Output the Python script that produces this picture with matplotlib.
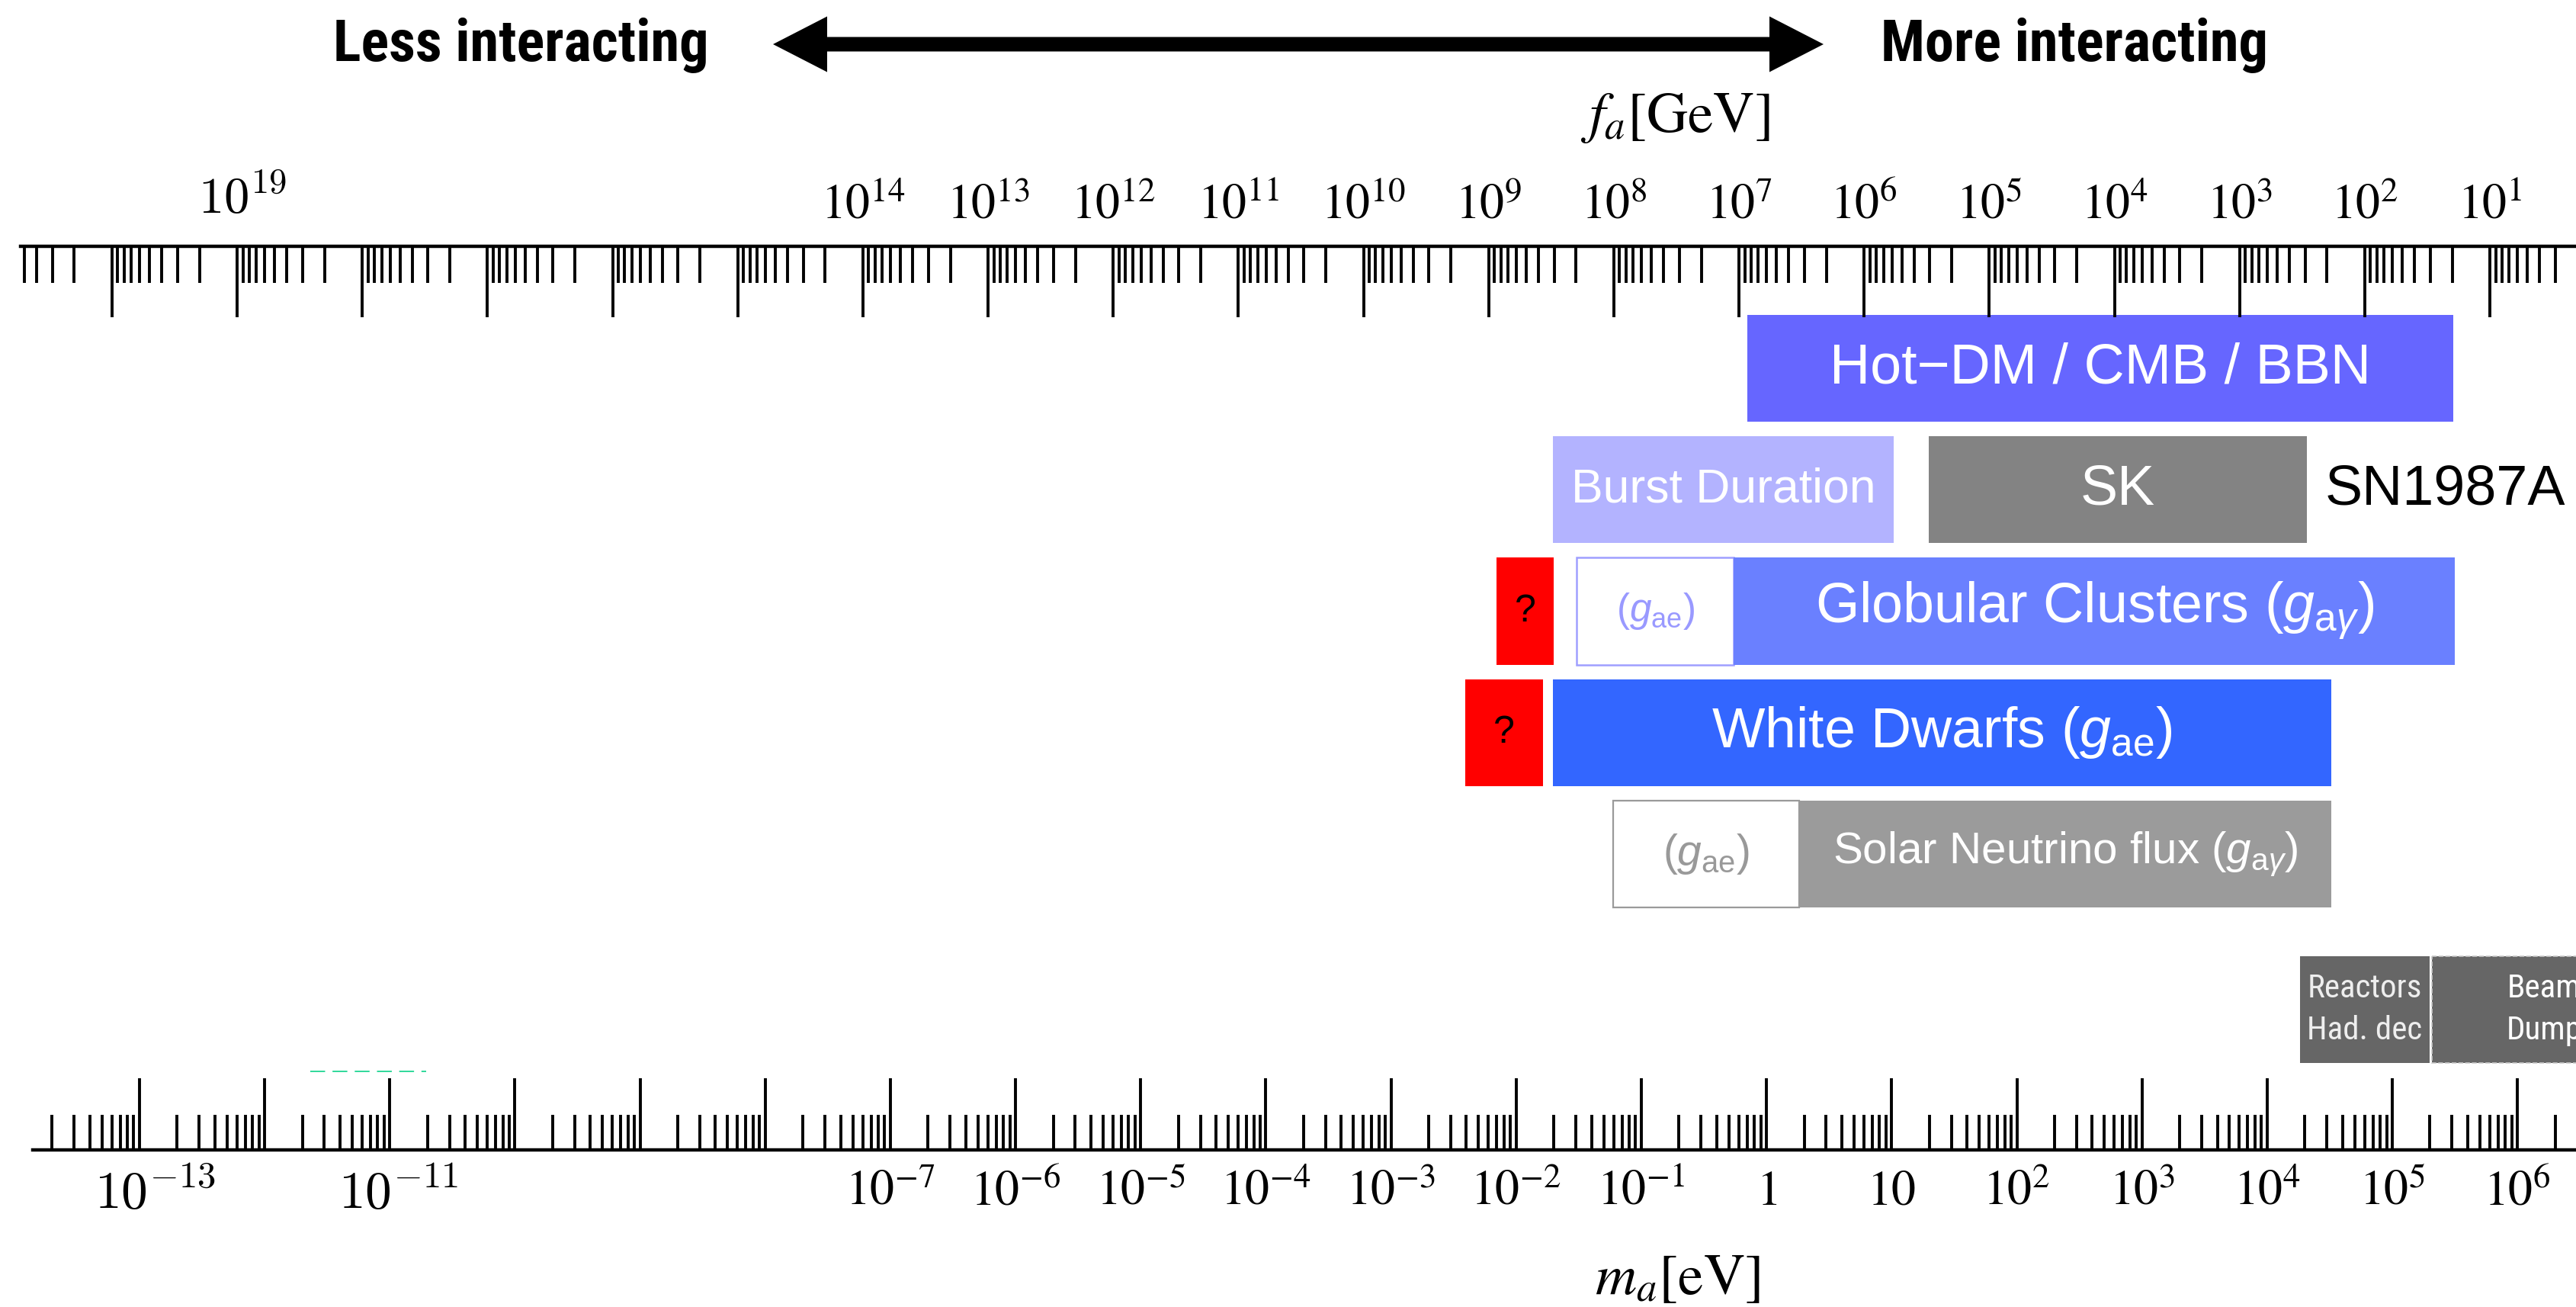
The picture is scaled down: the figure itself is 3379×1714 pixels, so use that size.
import numpy as np
import matplotlib
matplotlib.use("Agg")
import matplotlib.pyplot as plt
from matplotlib import font_manager
from matplotlib.font_manager import FontProperties
from matplotlib.patches import FancyArrow
from matplotlib.ticker import LogLocator, NullFormatter
from matplotlib.transforms import ScaledTranslation

# ---------------- data ----------------
# axion mass range on the bottom axis (eV) and f_a * m_a (GeV * eV)
M_RANGE = (10 ** -13.95, 10 ** 6.474)
FA_TIMES_MA = 10 ** 6.78

MA_EXPONENTS = list(range(-13, 7))
MA_LABELS = {-13: r"$10^{-13}$", -11: r"$10^{-11}$", -7: r"$10^{-7}$", -6: r"$10^{-6}$",
             -5: r"$10^{-5}$", -4: r"$10^{-4}$", -3: r"$10^{-3}$", -2: r"$10^{-2}$",
             -1: r"$10^{-1}$", 0: r"$1$", 1: r"$10$", 2: r"$10^{2}$", 3: r"$10^{3}$",
             4: r"$10^{4}$", 5: r"$10^{5}$", 6: r"$10^{6}$"}
FA_EXPONENTS = list(range(0, 22))
FA_LABELS = {k: rf"$10^{{{k}}}$" for k in [19, 14, 13, 12, 11, 10, 9, 8, 7, 6, 5, 4, 3, 2, 1]}

# bounds: row, lower / upper mass edge (eV), label
BAR_ROW = [0, 1, 1, 2, 2, 2, 3, 3, 4, 4, 5.28, 5.28]
BAR_LO = [0.705, 0.0197, 19.8, 6.98e-3, 0.0305, 0.547, 3.93e-3, 0.0197, 0.0597, 1.83, 1.83e4, 2.07e5]
BAR_HI = [3.07e5, 10.4, 2.08e4, 0.0200, 0.547, 3.16e5, 0.0164, 3.26e4, 1.83, 3.26e4, 1.99e5, 1.3e7]
BAR_TEXT = ["Hot\u2212DM / CMB / BBN", "Burst Duration", "SK", "?", r"($g_{\mathrm{ae}}$)",
            r"Globular Clusters ($g_{\mathrm{a}\gamma}$)", "?", r"White Dwarfs ($g_{\mathrm{ae}}$)",
            r"($g_{\mathrm{ae}}$)", r"Solar Neutrino flux ($g_{\mathrm{a}\gamma}$)",
            "Reactors\nHad. dec", "Beam\nDump"]

SN_LABEL_M, SN_LABEL_ROW = 2.91e4, 1
GREEN_M, GREEN_ROW = [2.3e-12, 1.96e-11], 5.79


# ---------------- fonts ----------------
def condensed_font(bold):
    hits = []
    for f in font_manager.fontManager.ttflist:
        narrow = (str(f.stretch) in ("condensed", "semi-condensed", "extra-condensed", "ultra-condensed")
                  or "Narrow" in f.name or "Condensed" in f.name)
        if not narrow or f.style != "normal" or "Mono" in f.name or "Serif" in f.name:
            continue
        w = f.weight if isinstance(f.weight, int) else font_manager.weight_dict.get(f.weight, 400)
        if (w >= 600) == bold:
            hits.append(f)
    hits.sort(key=lambda f: ("Liberation" not in f.name, "Roboto" not in f.name, f.name))
    return FontProperties(fname=hits[0].fname) if hits else None


HEAD_FONT = condensed_font(True)
HEAD_SIZE = 55
if HEAD_FONT is None:
    HEAD_FONT = FontProperties(family="Liberation Sans", weight="bold")
    HEAD_SIZE = 46
NARROW_FONT = condensed_font(False)
NARROW_SIZE = 31
if NARROW_FONT is None:
    NARROW_FONT = FontProperties(family="Liberation Sans")
    NARROW_SIZE = 26

plt.rcParams["font.family"] = ["Liberation Sans", "DejaVu Sans"]
plt.rcParams["mathtext.fontset"] = "stix"
plt.rcParams["mathtext.rm"] = "Liberation Sans"
plt.rcParams["mathtext.it"] = "Liberation Sans:italic"
plt.rcParams["mathtext.bf"] = "Liberation Sans:bold"

# face, edge, edge width, text colour, text size, narrow font?
BAR_STYLE = [
    ("#6666ff", "none", 0, "white", 53, False),
    ("#b3b3ff", "none", 0, "white", 45, False),
    ("#838383", "none", 0, "white", 53, False),
    ("#ff0000", "none", 0, "black", 36, False),
    ("white", "#9f9fff", 1.8, "#9999ff", 37, False),
    ("#6a80ff", "none", 0, "white", 53, False),
    ("#ff0000", "none", 0, "black", 36, False),
    ("#3366ff", "none", 0, "white", 53, False),
    ("white", "#9a9a9a", 1.6, "#999999", 41, False),
    ("#9b9b9b", "none", 0, "white", 42, False),
    ("#666666", "none", 0, "#eeeeee", NARROW_SIZE, True),
    ("#666666", "#c8c8c8", 1.2, "white", NARROW_SIZE, True),
]

W, H = 3380, 1714
fig = plt.figure(figsize=(W / 100, H / 100), dpi=100)

ax = fig.add_axes([27 / W, 1 - 1508 / H, (W - 27) / W, (1508 - 323) / H])
ax.set_xscale("log")
ax.set_ylim(6.436, -1.005)

for i, (row, lo, hi, txt) in enumerate(zip(BAR_ROW, BAR_LO, BAR_HI, BAR_TEXT)):
    fc, ec, lw, tc, ts, narrow = BAR_STYLE[i]
    ls = "--" if i == len(BAR_ROW) - 1 else "-"
    ax.barh(row, hi - lo, left=lo, height=0.88, color=fc, edgecolor=ec,
            linewidth=lw, linestyle=ls, zorder=2)
    kw = {"fontproperties": NARROW_FONT} if narrow else {"family": "Liberation Sans"}
    t = ax.text(np.sqrt(lo * hi), row, txt, ha="center", va="center", color=tc,
                math_fontfamily="custom", linespacing=1.45, multialignment="center",
                zorder=3, clip_on=False, **kw)
    t.set_fontsize(ts)

ax.text(SN_LABEL_M, SN_LABEL_ROW, "SN1987A", ha="left", va="center", fontsize=53, color="black")
ax.plot(GREEN_M, [GREEN_ROW, GREEN_ROW], color="#2fd89a", lw=1.4, dashes=(10, 5), zorder=2)

# bottom axis: m_a
ax.set_xticks([10.0 ** k for k in MA_EXPONENTS], [MA_LABELS.get(k, "") for k in MA_EXPONENTS])
ax.xaxis.set_minor_locator(LogLocator(base=10, subs=np.arange(2, 10), numticks=200))
ax.xaxis.set_minor_formatter(NullFormatter())
ax.set_xlim(*M_RANGE)
ax.tick_params(axis="x", which="major", direction="in", length=68, width=2.8, pad=18,
               labelsize=46, bottom=True, top=False)
ax.tick_params(axis="x", which="minor", direction="in", length=33, width=2.8,
               bottom=True, top=False)
ax.tick_params(axis="y", left=False, right=False, labelleft=False)
for s in ["top", "left", "right"]:
    ax.spines[s].set_visible(False)
ax.spines["bottom"].set_linewidth(3.2)
ax.spines["bottom"].set_bounds(10 ** -13.855, M_RANGE[1])

# top axis: f_a
ax_top = ax.twiny()
ax_top.set_xscale("log")
fa_major = [k for k in FA_EXPONENTS if M_RANGE[0] <= FA_TIMES_MA / 10.0 ** k <= M_RANGE[1]]
ax_top.set_xticks([FA_TIMES_MA / 10.0 ** k for k in fa_major], [FA_LABELS.get(k, "") for k in fa_major])
fa_minor = [FA_TIMES_MA / (j * 10.0 ** k) for k in FA_EXPONENTS for j in range(2, 10)]
fa_minor = [m for m in fa_minor if M_RANGE[0] <= m <= M_RANGE[1]]
ax_top.set_xticks(fa_minor, minor=True)
ax_top.xaxis.set_minor_formatter(NullFormatter())
ax_top.set_xlim(*M_RANGE)
ax_top.tick_params(axis="x", which="major", direction="in", length=67, width=2.8, pad=17, labelsize=46)
ax_top.tick_params(axis="x", which="minor", direction="in", length=34.5, width=2.8)
ax_top.tick_params(axis="y", left=False, right=False, labelleft=False, labelright=False)
for s in ["bottom", "left", "right"]:
    ax_top.spines[s].set_visible(False)
ax_top.spines["top"].set_linewidth(3.2)

# the far-left labels come from a different source figure: larger, CM style
shift = {-13: (20, 0), -11: (11, 0)}
for tick, k in zip(ax.xaxis.get_major_ticks(), MA_EXPONENTS):
    if k in shift:
        tick.label1.set_math_fontfamily("cm")
        tick.label1.set_fontsize(50)
        dx, dy = shift[k]
        tick.label1.set_transform(tick.label1.get_transform()
                                  + ScaledTranslation(dx / 100, dy / 100, fig.dpi_scale_trans))
for tick, k in zip(ax_top.xaxis.get_major_ticks(), fa_major):
    if k == 19:
        tick.label2.set_math_fontfamily("cm")
        tick.label2.set_fontsize(48)
        tick.label2.set_transform(tick.label2.get_transform()
                                  + ScaledTranslation(7 / 100, 5 / 100, fig.dpi_scale_trans))

# axis titles
fig.text(2197 / W, 1 - 173 / H, r"$f_a[\mathrm{GeV}]$", ha="center", va="baseline", fontsize=54)
fig.text(2200 / W, 1 - 1697 / H, r"$m_a[\mathrm{eV}]$", ha="center", va="baseline", fontsize=54)

# header with double arrow
ov = fig.add_axes([0, 0, 1, 1], zorder=-1)
ov.set_xlim(0, W)
ov.set_ylim(H, 0)
ov.axis("off")
for tip in (1014, 2392):
    ov.add_patch(FancyArrow(1703, 58, tip - 1703, 0, width=19, head_width=73, head_length=71,
                            length_includes_head=True, color="black", lw=0))
for label, xc in (("Less interacting", 683), ("More interacting", 2721)):
    t = fig.text(xc / W, 1 - 80 / H, label, ha="center", va="baseline", fontproperties=HEAD_FONT)
    t.set_fontsize(HEAD_SIZE)

fig.savefig("out.png", dpi=100, facecolor="white")
